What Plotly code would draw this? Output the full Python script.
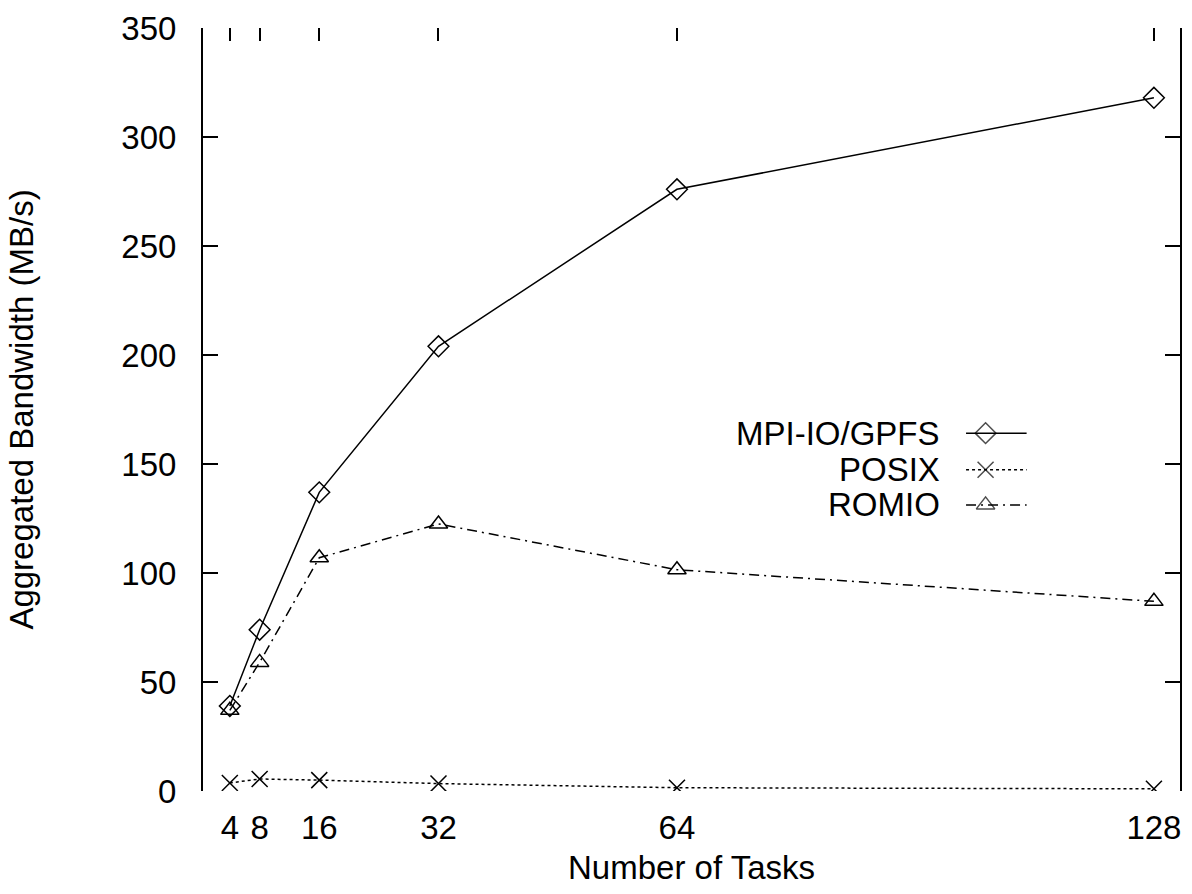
import plotly.graph_objects as go

tasks = [4, 8, 16, 32, 64, 128]
mpi_gpfs = [39, 74, 137, 204, 276, 318]
posix = [3.7, 5.5, 5.0, 3.4, 1.5, 1.0]
romio = [37, 59, 107, 122.5, 101.5, 87]
x_ticks = [4, 8, 16, 32, 64, 128]
y_ticks = [0, 50, 100, 150, 200, 250, 300, 350]
labels = ["MPI-IO/GPFS", "POSIX", "ROMIO"]

FONT = "Liberation Sans, Arial, Helvetica, sans-serif"
FS = 33

fig = go.Figure()

styles = [
    dict(dash="solid", symbol="diamond-open", size=16),
    dict(dash="dot", symbol="x-thin-open", size=16),
    dict(dash="10px,5px,2px,5px", symbol="triangle-up-open", size=16),
]
series = [mpi_gpfs, posix, romio]

for vals, st, name in zip(series, styles, labels):
    fig.add_trace(go.Scatter(
        x=tasks, y=vals, name=name, mode="lines+markers",
        line=dict(color="black", width=1.5, dash=st["dash"]),
        marker=dict(symbol=st["symbol"], size=st["size"], color="black",
                    line=dict(color="black", width=1.5)),
        showlegend=False,
    ))

# manual legend (text left of sample, like the original)
leg_text_x = 0.756
leg_rows = [0.469, 0.421, 0.375]
samp_x0, samp_xm, samp_x1 = 0.781, 0.801, 0.843
for name, st, ry in zip(labels, styles, leg_rows):
    fig.add_annotation(
        x=leg_text_x, y=ry, xref="paper", yref="paper", text=name,
        showarrow=False, xanchor="right", yanchor="middle",
        font=dict(family=FONT, size=FS, color="black"),
    )
    fig.add_trace(go.Scatter(
        x=[samp_x0, samp_xm, samp_x1], y=[ry, ry, ry],
        xaxis="x3", yaxis="y3", mode="lines+markers",
        line=dict(color="black", width=1.5, dash=st["dash"]),
        marker=dict(symbol=st["symbol"], size=[0, st["size"], 0], color="black",
                    line=dict(color="black", width=1.5)),
        showlegend=False, hoverinfo="skip",
    ))

# top tick marks (no axis line)
fig.add_trace(go.Scatter(x=[tasks[0]], y=[None], xaxis="x2", showlegend=False,
                         hoverinfo="skip"))

xrange = [0.4, 131.5]
fig.update_layout(
    width=1192, height=894,
    margin=dict(l=203, r=10, t=22, b=103),
    paper_bgcolor="white", plot_bgcolor="white",
    font=dict(family=FONT, size=FS, color="black"),
    xaxis=dict(
        range=xrange, tickmode="array", tickvals=x_ticks,
        ticktext=[str(v) for v in x_ticks],
        ticks="", showline=False, showgrid=False, zeroline=False,
        ticklabelstandoff=14,
        title=dict(text="Number of Tasks", standoff=10,
                   font=dict(family=FONT, size=FS)),
        tickfont=dict(family=FONT, size=FS),
    ),
    xaxis2=dict(
        range=xrange, overlaying="x", side="top", tickmode="array",
        tickvals=x_ticks, ticks="inside", ticklen=13, tickwidth=2,
        tickcolor="black", showticklabels=False, showline=False,
        showgrid=False, zeroline=False,
    ),
    xaxis3=dict(range=[0, 1], domain=[0, 1], visible=False, anchor="y3",
                overlaying="x"),
    yaxis3=dict(range=[0, 1], domain=[0, 1], visible=False, anchor="x3",
                overlaying="y"),
    yaxis=dict(
        range=[0, 350], tickmode="array", tickvals=y_ticks,
        ticks="inside", ticklen=15, tickwidth=2, tickcolor="black",
        showline=True, linecolor="black", linewidth=2, mirror="ticks",
        showgrid=False, zeroline=False, ticklabelstandoff=18,
        title=dict(text="Aggregated Bandwidth (MB/s)", standoff=78,
                   font=dict(family=FONT, size=FS)),
        tickfont=dict(family=FONT, size=FS),
    ),
)

fig.write_html("out.html")
